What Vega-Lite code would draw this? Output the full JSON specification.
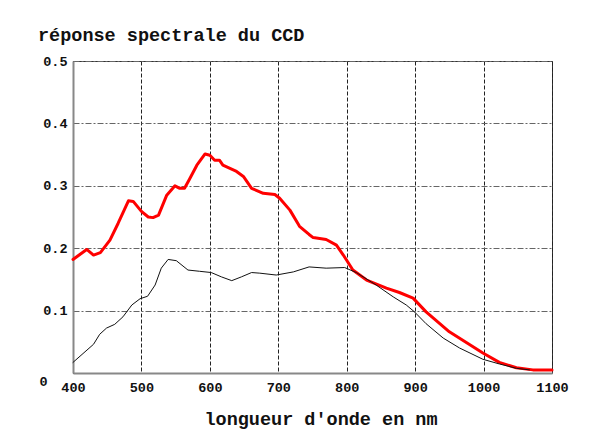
{
  "$schema": "https://vega.github.io/schema/vega-lite/v6.json",
  "autosize": "none",
  "width": 479,
  "height": 312,
  "padding": {"left": 73, "top": 61, "right": 42, "bottom": 72},
  "background": "white",
  "title": {
    "text": "réponse spectrale du CCD",
    "anchor": "start",
    "frame": "group",
    "dx": -35,
    "offset": -5,
    "baseline": "alphabetic",
    "font": "Liberation Mono",
    "fontSize": 18.5,
    "fontWeight": "bold",
    "color": "#111"
  },
  "config": {
    "view": {"stroke": "#333", "strokeWidth": 1},
    "axis": {
      "labelFont": "Liberation Mono",
      "labelFontSize": 13.5,
      "labelFontWeight": "bold",
      "labelColor": "#111",
      "titleFont": "Liberation Mono",
      "titleFontSize": 18.5,
      "titleFontWeight": "bold",
      "titleColor": "#111",
      "ticks": false,
      "domainColor": "#888",
      "domainWidth": 2,
      "labelFlush": false,
      "labelOverlap": false,
      "labelBound": false
    }
  },
  "data": {
    "values": [
      {"nm": 400, "v": 0.182, "s": "rouge"},
      {"nm": 410, "v": 0.19, "s": "rouge"},
      {"nm": 420, "v": 0.198, "s": "rouge"},
      {"nm": 430, "v": 0.189, "s": "rouge"},
      {"nm": 440, "v": 0.193, "s": "rouge"},
      {"nm": 454, "v": 0.213, "s": "rouge"},
      {"nm": 466, "v": 0.24, "s": "rouge"},
      {"nm": 481, "v": 0.276, "s": "rouge"},
      {"nm": 488, "v": 0.275, "s": "rouge"},
      {"nm": 500, "v": 0.259, "s": "rouge"},
      {"nm": 510, "v": 0.25, "s": "rouge"},
      {"nm": 517, "v": 0.249, "s": "rouge"},
      {"nm": 525, "v": 0.253, "s": "rouge"},
      {"nm": 537, "v": 0.285, "s": "rouge"},
      {"nm": 549, "v": 0.3, "s": "rouge"},
      {"nm": 556, "v": 0.296, "s": "rouge"},
      {"nm": 563, "v": 0.296, "s": "rouge"},
      {"nm": 570, "v": 0.31, "s": "rouge"},
      {"nm": 581, "v": 0.333, "s": "rouge"},
      {"nm": 593, "v": 0.351, "s": "rouge"},
      {"nm": 600, "v": 0.349, "s": "rouge"},
      {"nm": 607, "v": 0.341, "s": "rouge"},
      {"nm": 614, "v": 0.341, "s": "rouge"},
      {"nm": 619, "v": 0.333, "s": "rouge"},
      {"nm": 639, "v": 0.323, "s": "rouge"},
      {"nm": 649, "v": 0.315, "s": "rouge"},
      {"nm": 661, "v": 0.296, "s": "rouge"},
      {"nm": 678, "v": 0.288, "s": "rouge"},
      {"nm": 695, "v": 0.286, "s": "rouge"},
      {"nm": 702, "v": 0.28, "s": "rouge"},
      {"nm": 717, "v": 0.261, "s": "rouge"},
      {"nm": 731, "v": 0.235, "s": "rouge"},
      {"nm": 745, "v": 0.222, "s": "rouge"},
      {"nm": 751, "v": 0.217, "s": "rouge"},
      {"nm": 770, "v": 0.214, "s": "rouge"},
      {"nm": 785, "v": 0.205, "s": "rouge"},
      {"nm": 795, "v": 0.189, "s": "rouge"},
      {"nm": 809, "v": 0.165, "s": "rouge"},
      {"nm": 829, "v": 0.149, "s": "rouge"},
      {"nm": 858, "v": 0.136, "s": "rouge"},
      {"nm": 877, "v": 0.129, "s": "rouge"},
      {"nm": 897, "v": 0.12, "s": "rouge"},
      {"nm": 916, "v": 0.098, "s": "rouge"},
      {"nm": 950, "v": 0.066, "s": "rouge"},
      {"nm": 999, "v": 0.032, "s": "rouge"},
      {"nm": 1023, "v": 0.017, "s": "rouge"},
      {"nm": 1048, "v": 0.0085, "s": "rouge"},
      {"nm": 1072, "v": 0.005, "s": "rouge"},
      {"nm": 1100, "v": 0.005, "s": "rouge"},
      {"nm": 400, "v": 0.017, "s": "noir"},
      {"nm": 430, "v": 0.046, "s": "noir"},
      {"nm": 439, "v": 0.062, "s": "noir"},
      {"nm": 449, "v": 0.072, "s": "noir"},
      {"nm": 461, "v": 0.078, "s": "noir"},
      {"nm": 473, "v": 0.09, "s": "noir"},
      {"nm": 486, "v": 0.109, "s": "noir"},
      {"nm": 498, "v": 0.119, "s": "noir"},
      {"nm": 509, "v": 0.123, "s": "noir"},
      {"nm": 520, "v": 0.141, "s": "noir"},
      {"nm": 529, "v": 0.168, "s": "noir"},
      {"nm": 539, "v": 0.182, "s": "noir"},
      {"nm": 551, "v": 0.18, "s": "noir"},
      {"nm": 568, "v": 0.165, "s": "noir"},
      {"nm": 585, "v": 0.163, "s": "noir"},
      {"nm": 602, "v": 0.161, "s": "noir"},
      {"nm": 617, "v": 0.154, "s": "noir"},
      {"nm": 632, "v": 0.148, "s": "noir"},
      {"nm": 646, "v": 0.154, "s": "noir"},
      {"nm": 661, "v": 0.161, "s": "noir"},
      {"nm": 673, "v": 0.16, "s": "noir"},
      {"nm": 697, "v": 0.157, "s": "noir"},
      {"nm": 722, "v": 0.162, "s": "noir"},
      {"nm": 745, "v": 0.17, "s": "noir"},
      {"nm": 770, "v": 0.168, "s": "noir"},
      {"nm": 797, "v": 0.169, "s": "noir"},
      {"nm": 814, "v": 0.161, "s": "noir"},
      {"nm": 843, "v": 0.141, "s": "noir"},
      {"nm": 868, "v": 0.122, "s": "noir"},
      {"nm": 887, "v": 0.109, "s": "noir"},
      {"nm": 899, "v": 0.098, "s": "noir"},
      {"nm": 916, "v": 0.079, "s": "noir"},
      {"nm": 941, "v": 0.056, "s": "noir"},
      {"nm": 965, "v": 0.04, "s": "noir"},
      {"nm": 999, "v": 0.022, "s": "noir"},
      {"nm": 1023, "v": 0.0145, "s": "noir"},
      {"nm": 1048, "v": 0.0075, "s": "noir"},
      {"nm": 1067, "v": 0.005, "s": "noir"}
    ]
  },
  "mark": {"type": "line", "strokeJoin": "round", "strokeCap": "round"},
  "encoding": {
    "x": {
      "field": "nm",
      "type": "quantitative",
      "scale": {"domain": [400, 1100], "nice": false, "zero": false},
      "axis": {
        "values": [400, 500, 600, 700, 800, 900, 1000, 1100],
        "format": "d",
        "labelPadding": 7,
        "labelBaseline": "top",
        "gridColor": "#222",
        "gridDash": [4, 2],
        "gridWidth": 1,
        "gridOpacity": 1,
        "title": "longueur d'onde en nm",
        "titleX": 247.5,
        "titleY": 51,
        "titleAlign": "center",
        "titleBaseline": "alphabetic"
      }
    },
    "y": {
      "field": "v",
      "type": "quantitative",
      "scale": {"domain": [0, 0.5], "nice": false},
      "axis": {
        "values": [0, 0.1, 0.2, 0.3, 0.4, 0.5],
        "labelExpr": "datum.value == 0 ? '0' : format(datum.value, '.1f')",
        "labelPadding": {"condition": {"test": "datum.value == 0", "value": 26}, "value": 6},
        "labelOffset": {"condition": {"test": "datum.value == 0", "value": 8}, "value": 0},
        "labelBaseline": "middle",
        "gridColor": "#666",
        "gridDash": [6, 2, 2, 2],
        "gridWidth": 1,
        "gridOpacity": 1,
        "title": null
      }
    },
    "color": {
      "field": "s",
      "type": "nominal",
      "scale": {"domain": ["noir", "rouge"], "range": ["#111111", "#ff0000"]},
      "legend": null
    },
    "strokeWidth": {
      "field": "s",
      "type": "nominal",
      "scale": {"domain": ["noir", "rouge"], "range": [1, 3]},
      "legend": null
    }
  }
}
